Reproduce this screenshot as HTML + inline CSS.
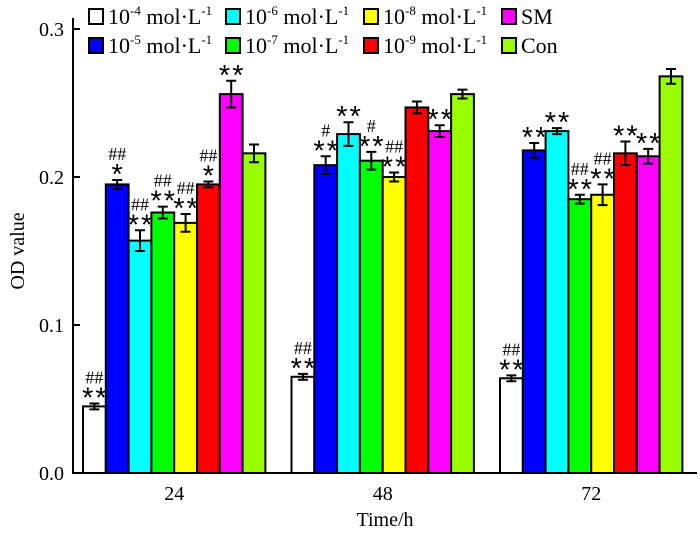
<!DOCTYPE html>
<html><head><meta charset="utf-8"><style>
body{margin:0;background:#fff}
svg{display:block;font-family:"Liberation Serif",serif}
</style></head><body>
<svg id="c" width="700" height="533"></svg>
<script>
const groups=["24","48","72"];
const seriesNames=["10-4","10-5","10-6","10-7","10-8","10-9","SM","Con"];
const colors=["#ffffff","#0000ff","#00ffff","#00ff00","#ffff00","#ff0000","#ff00ff","#99ff00"];
const v24=[0.045,0.195,0.157,0.176,0.169,0.195,0.256,0.216];
const v48=[0.065,0.208,0.229,0.211,0.200,0.247,0.231,0.256];
const v72=[0.064,0.218,0.231,0.185,0.188,0.216,0.214,0.268];
const e24=[0.002,0.003,0.007,0.004,0.006,0.002,0.009,0.006];
const e48=[0.002,0.006,0.008,0.006,0.003,0.004,0.004,0.003];
const e72=[0.002,0.005,0.002,0.003,0.007,0.008,0.005,0.005];
const s24=["**","*","**","**","**","*","**",""];
const h24=["##","##","##","##","##","##","",""];
const s48=["**","**","**","**","**","","**",""];
const h48=["##","#","","#","##","","",""];
const s72=["**","**","**","**","**","**","**",""];
const h72=["##","","","##","##","","",""];
const yTicks=[0,0.1,0.2,0.3];
const vals=[v24,v48,v72],errs=[e24,e48,e72],stars=[s24,s48,s72],hashes=[h24,h48,h72];
const svg=document.getElementById('c');const NS="http://www.w3.org/2000/svg";
function mk(t,a,p){const e=document.createElementNS(NS,t);for(const k in a)e.setAttribute(k,a[k]);(p||svg).appendChild(e);return e;}
const y=v=>473-v*1480;
const BW=22.8;
const x=(g,i)=>83+g*208.5+i*BW;
// axes
const ax=mk('line',{x1:73,y1:18,x2:73,y2:473,stroke:'#000','stroke-width':2});


const bx=mk('line',{x1:72,y1:473,x2:697,y2:473,stroke:'#000','stroke-width':2});


yTicks.forEach(t=>{
 mk('line',{x1:73,y1:y(t),x2:80,y2:y(t),stroke:'#000','stroke-width':2});
 const tx=mk('text',{x:64,y:y(t)+7,'text-anchor':'end','font-size':20});tx.textContent=t.toFixed(1);
 
 
});
groups.forEach((g,gi)=>{
 const cx=x(gi,4);
 const tx=mk('text',{x:cx,y:500,'text-anchor':'middle','font-size':20});tx.textContent=g;
 
 
 vals[gi].forEach((v,i)=>{
  const r=mk('rect',{x:x(gi,i),y:y(v),width:BW,height:473-y(v),fill:colors[i],stroke:'#000','stroke-width':2});
  
  
  const c=x(gi,i)+BW/2,e=errs[gi][i];
  mk('path',{d:`M${c},${y(v+e)}V${y(v-e)}M${c-5},${y(v+e)}H${c+5}M${c-5},${y(v-e)}H${c+5}`,stroke:'#000','stroke-width':2,fill:'none'});
  const top=y(v+e);
  let hy=top-3;
  if(stars[gi][i]){const s=mk('text',{x:c+1,y:top+4,'text-anchor':'middle','font-size':29,'font-family':'Liberation Sans, sans-serif','letter-spacing':'2'});s.textContent=stars[gi][i];hy=top-20;
   
   }
  if(hashes[gi][i]){const h=mk('text',{x:c,y:hy,'text-anchor':'middle','font-size':18});h.textContent=hashes[gi][i];
   
   }
 });
});
const yl=mk('text',{x:24,y:251,'text-anchor':'middle','font-size':20,transform:'rotate(-90 24 251)'});yl.textContent='OD value';


const xl=mk('text',{x:385,y:526,'text-anchor':'middle','font-size':20});xl.textContent='Time/h';


// legend
const lx=[89,226,364,502],ly=[9,38];
const order=[0,2,4,6,1,3,5,7];
order.forEach((si,k)=>{
 const col=k%4,row=Math.floor(k/4);
 const g=mk('g',{});
 
 
 mk('rect',{x:lx[col],y:ly[row],width:14,height:15,fill:colors[si],stroke:'#000','stroke-width':2},g);
 const t=mk('text',{x:lx[col]+19,y:ly[row]+15,'font-size':22},g);
 const n=seriesNames[si];
 if(n.startsWith('10')){
  t.innerHTML=`10<tspan dy="-9" font-size="13">${n.slice(2)}</tspan><tspan dy="9"> mol·L</tspan><tspan dy="-9" font-size="13">-1</tspan>`;
 } else t.textContent=n;
});
</script>
</body></html>
